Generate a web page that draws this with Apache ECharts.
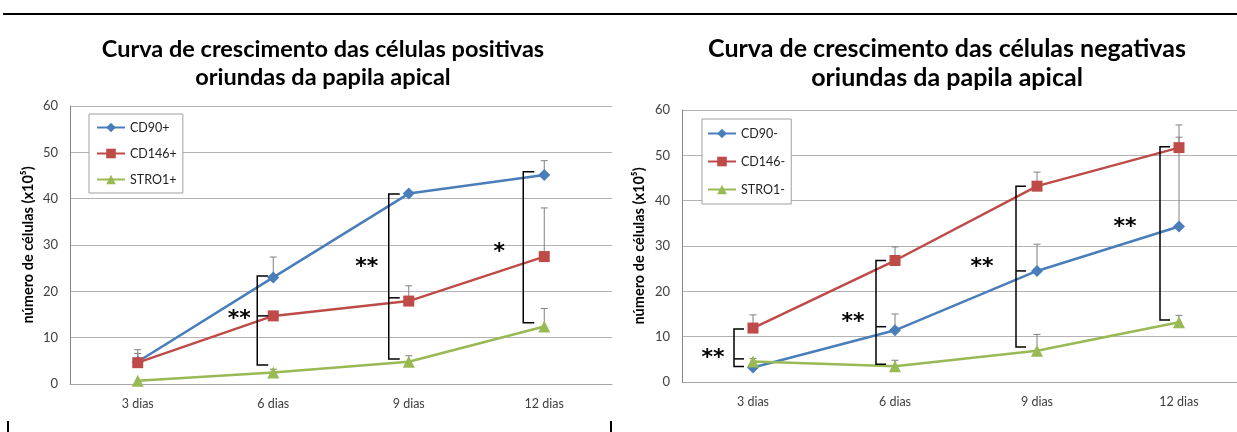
<!DOCTYPE html>
<html><head><meta charset="utf-8">
<script src="https://cdn.jsdelivr.net/npm/echarts@6/dist/echarts.min.js"></script>
<style>html,body{margin:0;padding:0;background:#fff}#c{width:1237px;height:432px}</style>
</head><body><div id="c"></div>
<script>
// ---------- data ----------
const categories = ['3 dias', '6 dias', '9 dias', '12 dias'];
const yMin = 0, yMax = 60, yStep = 10;

const posNames = ['CD90+', 'CD146+', 'STRO1+'];
const posCD90 = [4.8, 23.0, 41.1, 45.1];
const posCD146 = [4.6, 14.7, 17.9, 27.5];
const posSTRO1 = [0.7, 2.5, 4.8, 12.4];
const posCD90Err = [2.6, 4.4, 0, 3.1];
const posCD146Err = [2.0, 0, 3.3, 10.5];
const posSTRO1Err = [0, 0.7, 1.3, 3.9];

const negNames = ['CD90-', 'CD146-', 'STRO1-'];
const negCD90 = [3.2, 11.4, 24.5, 34.3];
const negCD146 = [11.9, 26.8, 43.2, 51.7];
const negSTRO1 = [4.5, 3.5, 6.9, 13.2];
const negCD90Err = [0, 3.6, 5.9, 19.7];
const negCD146Err = [2.9, 3.0, 3.1, 5.0];
const negSTRO1Err = [0.7, 1.3, 3.6, 1.5];

// significance brackets: [category index, top, middle (null = none), bottom]
const posBrackets = [[1, 23.3, 14.7, 4.1], [2, 41.0, 18.6, 5.4], [3, 45.8, null, 13.2]];
const negBrackets = [[0, 11.7, 5.1, 3.4], [1, 26.8, 12.2, 3.9], [2, 43.2, 24.5, 7.7], [3, 51.9, null, 13.7]];
// significance marks: [category index, value level, text]
const posStars = [[1, 15.0, '**'], [2, 26.3, '**'], [3, 29.6, '*']];
const negStars = [[0, 6.4, '**'], [1, 14.3, '**'], [2, 26.5, '**'], [3, 35.3, '**']];

const titles = ['Curva de crescimento das células positivas\noriundas da papila apical',
                'Curva de crescimento das células negativas\noriundas da papila apical'];
const yName = 'número de células (x10⁵)';

// ---------- styling / layout ----------
const C_BLUE = '#4A7EBB', C_RED = '#BE4B48', C_GREEN = '#98B954';
const FONT = 'Lato';
const bracketDx = [[-16, -20, -21], [-19, -19, -21, -19]];
const starDx = [[-34, -42, -45], [-40, -42, -55, -54]];

function lineSeries(name, data, xi, color, symbol, size) {
  return {
    name, type: 'line', data, xAxisIndex: xi, yAxisIndex: xi,
    symbol, symbolSize: size, z: 3,
    lineStyle: { color, width: 2.5 },
    itemStyle: { color, borderWidth: 0 },
    emphasis: { disabled: true }, animation: false
  };
}
function errSeries(vals, errs, xi) {
  return {
    type: 'custom', xAxisIndex: xi, yAxisIndex: xi, silent: true, z: 2, animation: false,
    data: vals.map((v, i) => [i, v, v + errs[i]]),
    encode: { x: 0, y: [1, 2] },
    renderItem(params, api) {
      if (errs[params.dataIndex] <= 0) return null;
      const lo = api.coord([api.value(0), api.value(1)]);
      const hi = api.coord([api.value(0), api.value(2)]);
      const st = { stroke: '#808080', lineWidth: 1 };
      return { type: 'group', children: [
        { type: 'line', shape: { x1: lo[0], y1: lo[1], x2: hi[0], y2: hi[1] }, style: st },
        { type: 'line', shape: { x1: hi[0] - 3.5, y1: hi[1], x2: hi[0] + 3.5, y2: hi[1] }, style: st }
      ]};
    }
  };
}
function bracketSeries(br, xi, tick) {
  return {
    type: 'custom', xAxisIndex: xi, yAxisIndex: xi, silent: true, z: 5, animation: false,
    data: br.map(b => [b[0], b[1], b[3]]),
    encode: { x: 0, y: [1, 2] },
    renderItem(params, api) {
      const b = br[params.dataIndex];
      const t = api.coord([b[0], b[1]]);
      const bo = api.coord([b[0], b[3]]);
      const x = t[0] + bracketDx[xi][params.dataIndex];
      const st = { stroke: '#000', lineWidth: 1.5, fill: null };
      const ch = [{ type: 'polyline', shape: { points: [[x + tick, t[1]], [x, t[1]], [x, bo[1]], [x + tick, bo[1]]] }, style: st }];
      if (b[2] != null) {
        const m = api.coord([b[0], b[2]]);
        ch.push({ type: 'line', shape: { x1: x, y1: m[1], x2: x + tick, y2: m[1] }, style: st });
      }
      return { type: 'group', children: ch };
    }
  };
}
function starSeries(stars, xi) {
  return {
    type: 'custom', xAxisIndex: xi, yAxisIndex: xi, silent: true, z: 6, animation: false,
    data: stars.map(s => [s[0], s[1]]),
    encode: { x: 0, y: 1 },
    renderItem(params, api) {
      const s = stars[params.dataIndex];
      const p = api.coord([s[0], s[1]]);
      return { type: 'text', x: p[0] + starDx[xi][params.dataIndex], y: p[1] + 5,
        style: { text: s[2], font: 'bold 22px "DejaVu Sans"', fill: '#000', align: 'center', verticalAlign: 'middle' } };
    }
  };
}

function xAxis(gi) {
  return {
    type: 'category', gridIndex: gi, data: categories, boundaryGap: true,
    axisLine: { show: true, lineStyle: { color: '#A6A6A6', width: 1 } },
    axisTick: { show: false },
    axisLabel: { color: '#404040', fontSize: 12.5, fontFamily: FONT, margin: 13 },
    splitLine: { show: false }
  };
}
function yAxis(gi, gap) {
  return {
    type: 'value', gridIndex: gi, min: yMin, max: yMax, interval: yStep,
    name: yName, nameLocation: 'middle', nameRotate: 90, nameGap: gap,
    nameTextStyle: { color: '#000', fontSize: 14.5, fontWeight: 'bold', fontFamily: FONT },
    axisLine: { show: true, lineStyle: { color: '#868686', width: 1 } },
    axisTick: { show: false },
    axisLabel: { color: '#404040', fontSize: 13, fontFamily: FONT, margin: 12 },
    splitLine: { show: true, lineStyle: { color: '#B3B3B3', width: 1 } }
  };
}
function legend(names, left, top, gap, pad) {
  return {
    data: names, orient: 'vertical', left, top, itemWidth: 28, itemHeight: 12, itemGap: gap,
    padding: pad, borderColor: '#A0A0A0', borderWidth: 1, backgroundColor: '#fff', borderRadius: 0,
    textStyle: { color: '#222', fontSize: 12.5, fontFamily: FONT },
    selectedMode: false
  };
}

const chart = echarts.init(document.getElementById('c'), null, { renderer: 'canvas' });
chart.setOption({
  backgroundColor: '#fff',
  animation: false,
  title: [
    { text: titles[0], left: 318, top: 30, textAlign: 'center',
      textStyle: { fontFamily: FONT, fontWeight: 'bold', fontSize: 23.5, lineHeight: 28, color: '#000' } },
    { text: titles[1], left: 942, top: 29, textAlign: 'center',
      textStyle: { fontFamily: FONT, fontWeight: 'bold', fontSize: 25, lineHeight: 29, color: '#000' } }
  ],
  legend: [
    legend(posNames, 89, 114, 13, [7, 6, 7, 7]),
    legend(negNames, 702, 119, 15, [8, 6, 8, 5])
  ],
  grid: [
    { left: 70, top: 106, width: 542, height: 278, outerBoundsMode: 'none', containLabel: false },
    { left: 682, top: 110, width: 568, height: 272, outerBoundsMode: 'none', containLabel: false }
  ],
  xAxis: [xAxis(0), xAxis(1)],
  yAxis: [yAxis(0, 34), yAxis(1, 35)],
  graphic: [
    { type: 'line', shape: { x1: 3, y1: 14, x2: 1237, y2: 14 }, style: { stroke: '#000', lineWidth: 2 } },
    { type: 'line', shape: { x1: 8, y1: 421, x2: 8, y2: 432 }, style: { stroke: '#000', lineWidth: 2 } },
    { type: 'line', shape: { x1: 611, y1: 421, x2: 611, y2: 432 }, style: { stroke: '#000', lineWidth: 2 } }
  ],
  series: [
    errSeries(posCD90, posCD90Err, 0),
    errSeries(posCD146, posCD146Err, 0),
    errSeries(posSTRO1, posSTRO1Err, 0),
    lineSeries(posNames[0], posCD90, 0, C_BLUE, 'diamond', 12),
    lineSeries(posNames[1], posCD146, 0, C_RED, 'rect', 11),
    lineSeries(posNames[2], posSTRO1, 0, C_GREEN, 'triangle', 12),
    bracketSeries(posBrackets, 0, 11),
    starSeries(posStars, 0),
    errSeries(negCD90, negCD90Err, 1),
    errSeries(negCD146, negCD146Err, 1),
    errSeries(negSTRO1, negSTRO1Err, 1),
    lineSeries(negNames[0], negCD90, 1, C_BLUE, 'diamond', 12),
    lineSeries(negNames[1], negCD146, 1, C_RED, 'rect', 11),
    lineSeries(negNames[2], negSTRO1, 1, C_GREEN, 'triangle', 12),
    bracketSeries(negBrackets, 1, 10),
    starSeries(negStars, 1)
  ]
});
</script>
</body></html>
